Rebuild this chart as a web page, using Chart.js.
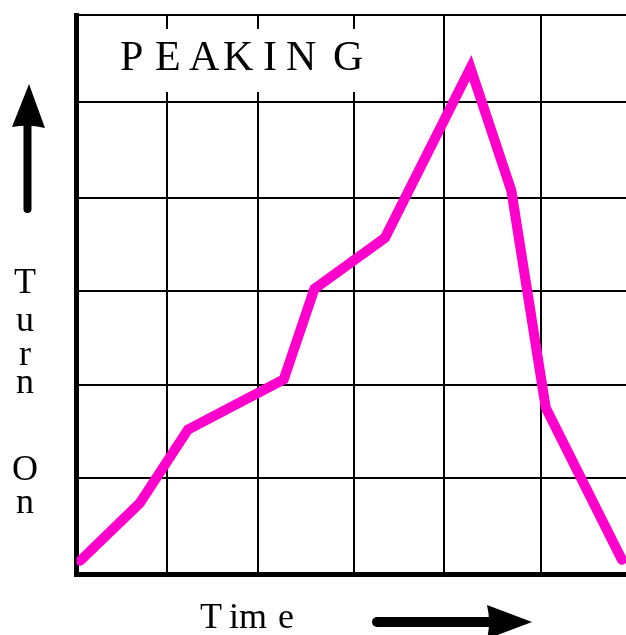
<!DOCTYPE html>
<html>
<head>
<meta charset="utf-8">
<script src="https://cdn.jsdelivr.net/npm/chart.js@4.4.1/dist/chart.umd.min.js"></script>
<style>
  html, body { margin: 0; padding: 0; background: #fff; overflow: hidden; width: 626px; height: 635px; }
  #wrap { width: 640px; height: 635px; }
  canvas { display: block; }
</style>
</head>
<body>
<div id="wrap"><canvas id="c" width="640" height="635"></canvas></div>
<script>
// Data (x in grid columns, y in grid rows)
const timeValues   = [0.04, 0.68, 1.20, 2.23, 2.56, 3.32, 4.24, 4.68, 5.05, 5.87];
const turnOnValues = [0.14, 0.75, 1.53, 2.06, 3.02, 3.56, 5.36, 4.06, 1.76, 0.15];
// hand-drawn grid lines are slightly irregular
const xGridValues  = [0, 0.974, 1.954, 2.988, 3.956, 5.0, 6];
const yGridValues  = [0, 1.017, 2.002, 2.998, 3.983, 5.0, 5.92];
const titleText    = "P E A K I N G";
const yLabelText   = "Turn On";
const xLabelText   = "Tim e";

const points = timeValues.map((x, i) => ({ x: x, y: turnOnValues[i] }));

const serif = '"Liberation Serif", "Times New Roman", serif';

const decorations = {
  id: 'decorations',
  beforeDatasetsDraw(chart) {
    const ctx = chart.ctx;
    ctx.save();
    // white box behind title
    ctx.fillStyle = '#fff';
    ctx.fillRect(80, 29, 290, 63);
    // title letters
    ctx.fillStyle = '#000';
    ctx.font = '42px ' + serif;
    ctx.textBaseline = 'alphabetic';
    ctx.textAlign = 'left';
    const letters = titleText.replace(/ /g, '').split('');
    const lx = [120, 155, 189, 223, 263, 286, 333];
    letters.forEach((ch, i) => ctx.fillText(ch, lx[i], 70));
    ctx.restore();
  },
  afterDraw(chart) {
    const ctx = chart.ctx;
    ctx.save();
    ctx.fillStyle = '#000';
    ctx.strokeStyle = '#000';
    // vertical y label
    ctx.font = '36px ' + serif;
    ctx.textAlign = 'center';
    ctx.textBaseline = 'alphabetic';
    const yl = yLabelText.replace(/ /g, '').split('');
    const yb = [293, 331, 365, 393, 480, 513];
    yl.forEach((ch, i) => ctx.fillText(ch, 25, yb[i]));
    // x label
    ctx.textAlign = 'left';
    const xl = xLabelText.replace(/ /g, '').split('');
    const xx = [200, 229, 239, 278];
    xl.forEach((ch, i) => ctx.fillText(ch, xx[i], 628));
    // up arrow
    ctx.lineWidth = 8;
    ctx.lineCap = 'round';
    ctx.beginPath();
    ctx.moveTo(27.5, 209);
    ctx.lineTo(27.5, 124);
    ctx.stroke();
    ctx.beginPath();
    ctx.moveTo(29, 84);
    ctx.lineTo(45, 128);
    ctx.quadraticCurveTo(29, 124, 12, 127);
    ctx.closePath();
    ctx.fill();
    // right arrow
    ctx.lineWidth = 10;
    ctx.beginPath();
    ctx.moveTo(377, 622);
    ctx.lineTo(492, 622);
    ctx.stroke();
    ctx.beginPath();
    ctx.moveTo(532, 622);
    ctx.lineTo(487, 605);
    ctx.quadraticCurveTo(491, 622, 487, 639);
    ctx.closePath();
    ctx.fill();
    ctx.restore();
  }
};

new Chart(document.getElementById('c'), {
  type: 'line',
  data: {
    datasets: [{
      data: points,
      borderColor: '#ff00cc',
      borderWidth: 10,
      borderCapStyle: 'round',
      borderJoinStyle: 'miter',
      pointRadius: 0,
      fill: false,
      tension: 0
    }]
  },
  options: {
    responsive: false,
    animation: false,
    devicePixelRatio: 1,
    layout: { padding: { left: 76.5, top: 15, right: 6, bottom: 61 } },
    plugins: { legend: { display: false }, tooltip: { enabled: false } },
    scales: {
      x: {
        type: 'linear',
        min: 0, max: 6,
        afterBuildTicks: (axis) => { axis.ticks = xGridValues.map(v => ({ value: v })); },
        ticks: { display: false },
        grid: { color: '#000', lineWidth: 2, drawTicks: false },
        border: { display: true, color: '#000', width: 5 }
      },
      y: {
        type: 'linear',
        min: 0, max: 5.92,
        afterBuildTicks: (axis) => { axis.ticks = yGridValues.map(v => ({ value: v })); },
        ticks: { display: false },
        grid: { color: '#000', lineWidth: 2, drawTicks: false },
        border: { display: true, color: '#000', width: 5 }
      }
    }
  },
  plugins: [decorations]
});
</script>
</body>
</html>
